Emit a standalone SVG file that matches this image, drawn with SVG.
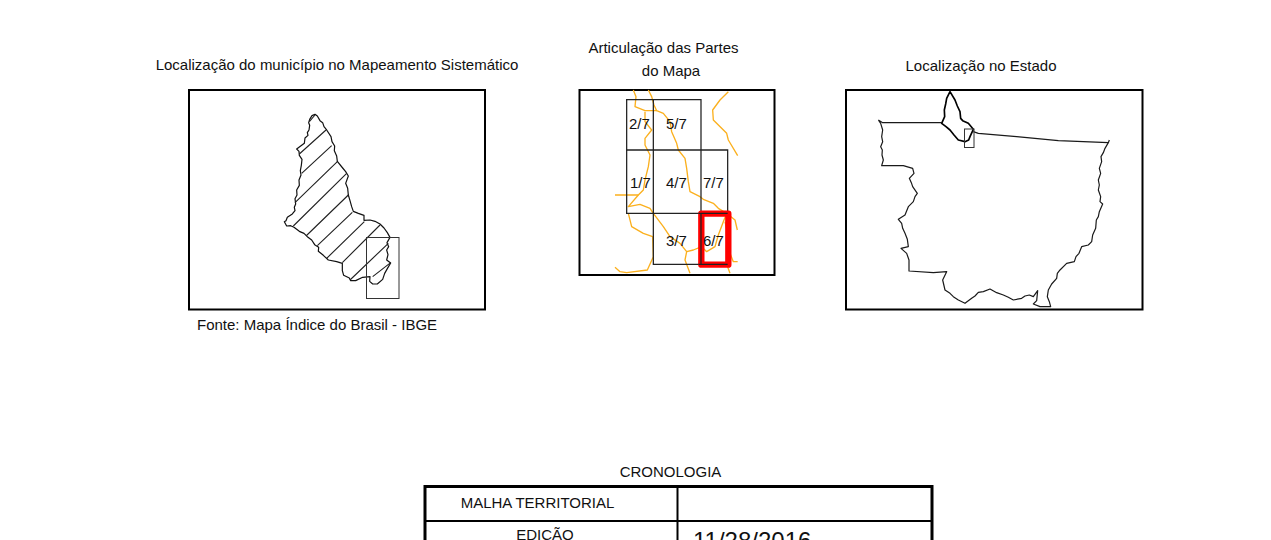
<svg xmlns="http://www.w3.org/2000/svg" width="1271" height="540" viewBox="0 0 1271 540">
<style>
text{font-family:"Liberation Sans",Arial,sans-serif;font-size:15px;fill:#111}
.m{text-anchor:middle}
.frame{fill:none;stroke:#000;stroke-width:2}
.thin{fill:none;stroke:#333;stroke-width:1}
.line{fill:none;stroke:#111;stroke-width:3.6;stroke-linejoin:round}
.state{fill:none;stroke:#1a1a1a;stroke-width:3.6;stroke-linejoin:round}
.muni{fill:none;stroke:#000;stroke-width:5;stroke-linejoin:round}
.hatch{fill:none;stroke:#222;stroke-width:3.4}
.river{fill:none;stroke:#fbb01e;stroke-width:4;stroke-linejoin:round}
.cell{fill:none;stroke:#222;stroke-width:3.8}
</style>
<rect width="1271" height="540" fill="#fff"/>
<g id="map-location">
<text class="m" x="337" y="70">Localização do município no Mapeamento Sistemático</text>
<rect class="frame" x="189" y="90" width="296" height="219.500"/>
<g transform="translate(180 80) scale(0.33333)">
<path class="line" d="M405 103L396 107L389 118L386 128L389 136L387 150L382 158L384 166L375 174L373 190L362 198L350 207L357 214L358 226L366 238L364 256L361 272L363 285L357 300L358 316L350 330L351 345L345 356L347 372L343 382L345 392L337 402L322 412L318 422L313 425L320 438L332 437L342 442L358 454L372 460L382 470L395 480L404 494L416 502L415 514L430 526L445 540L470 545L487 550L487 572L491 586L508 594L512 602L527 602L548 592L570 590L569 604L578 612L592 612L608 598L614 580L622 566L632 549L620 540L624 524L620 510L626 500L621 488L630 472L622 458L612 444L600 432L585 424L570 420L552 421L552 406L535 400L520 394L515 380L510 362L505 345L503 325L497 310L505 288L497 275L488 264L472 244L470 228L463 212L464 198L456 185L453 170L440 150L432 140L428 128L420 122L412 108Z"/>
<path class="hatch" d="M388 125L405 105M358 222L438 150M365 280L455 197M345 368L472 245M340 438L500 280M378 468L505 345M412 497L517 397M440 535L553 425M487 548L600 435M510 600L625 490M578 590L632 548"/>
</g>
<rect class="thin" x="366.500" y="237.500" width="32.500" height="61"/>
<text x="197" y="330">Fonte: Mapa Índice do Brasil - IBGE</text>
</g>
<g id="map-parts">
<text class="m" x="663.500" y="53">Articulação das Partes</text>
<text class="m" x="671" y="76">do Mapa</text>
<rect class="frame" x="579.500" y="90" width="195" height="185"/>
<g transform="translate(570 80) scale(0.33333)">
<path class="river" d="M235 30L245 50L252 75L260 92L280 100L300 125L305 155L320 190L325 210L345 235L350 265L355 305L360 335L390 350L400 358L430 370L445 385L470 400L495 420L502 450"/>
<path class="river" d="M190 30L198 50L195 80L225 92L260 92"/>
<path class="river" d="M225 95L225 125L245 150L225 175L225 195L240 225L235 260L225 300L220 330L205 345L135 345"/>
<path class="river" d="M205 345L175 380L210 373L240 385L250 400L280 440L300 470L330 490L350 515L370 510L395 500L410 515L435 500L445 465L460 425L470 400"/>
<path class="river" d="M175 400L185 440L220 460L248 470L250 530L232 570L170 578L150 575L135 562"/>
<path class="river" d="M350 515L345 540L360 580"/>
<path class="river" d="M475 35L450 60L428 90L430 120L470 160L475 180L503 227"/>
<path class="river" d="M465 425L475 470L480 520L490 545L503 545M480 520L470 553L480 580"/>
<path class="cell" d="M170 59H393V210H170ZM250 59V553M170 210V400H473V210H393M393 210V553M250 400V553H473V400"/>
<rect x="394" y="401" width="81" height="153" fill="none" stroke="#f00" stroke-width="19" stroke-linejoin="round"/>
<path class="cell" d="M385 400H473M385 553H473M393 400V553"/>
</g>
<text x="629" y="129">2/7</text>
<text x="666" y="129">5/7</text>
<text x="630" y="188">1/7</text>
<text x="666" y="188">4/7</text>
<text x="703" y="188">7/7</text>
<text x="666" y="246">3/7</text>
<text x="703" y="246">6/7</text>
</g>
<g id="map-state">
<text class="m" x="981" y="71">Localização no Estado</text>
<rect class="frame" x="846" y="90" width="296.500" height="219.500"/>
<g transform="translate(840 80) scale(0.33333)">
<path class="state" d="M115 120L128 128L305 128M400 155L415 160L530 170L655 182L805 188L808 180M805 188L795 205L790 218L783 230L785 245L778 265L782 280L775 300L778 315L775 330L782 350L780 365L788 372L778 395L775 410L769 420L767 445L758 465L755 485L745 495L725 500L717 520L708 530L703 545L680 550L660 570L652 580L650 595L635 612L625 630L622 650L628 665L632 680L600 680L580 672L590 662L593 632L580 650L568 645L555 648L545 655L520 660L505 652L490 645L470 638L450 627L430 635L415 637L405 648L395 655L375 670L355 660L340 650L330 640L315 630L308 600L320 575L280 578L207 573L207 540L200 520L183 505L205 500L202 478L195 460L188 445L185 430L175 418L195 405L205 380L220 365L225 350L232 340L218 320L214 308L208 295L222 280L218 265L190 257L125 257L130 240L126 225L127 210L122 200L128 185L125 170L128 150L122 130L115 120"/>
<path class="muni" d="M330 35L320 55L317 72L313 90L314 110L305 130L318 140L330 150L342 165L355 180L375 185L386 180L390 170L400 148L385 130L368 122L362 115L360 95L352 78L345 60Z"/>
</g>
<rect class="thin" x="964.500" y="129" width="9.500" height="18.500"/>
</g>
<g id="chronology">
<text class="m" x="670.500" y="477">CRONOLOGIA</text>
<path fill="none" stroke="#000" stroke-width="3" d="M425 545V486.500H932V545"/>
<path fill="none" stroke="#000" stroke-width="2" d="M425 521H932M677.500 486V545"/>
<text class="m" x="537.500" y="508">MALHA TERRITORIAL</text>
<text class="m" x="545" y="540">EDIÇÃO</text>
<text x="693" y="549" style="font-size:24px">11/28/2016</text>
</g>
<g id="connectors"/>
</svg>
